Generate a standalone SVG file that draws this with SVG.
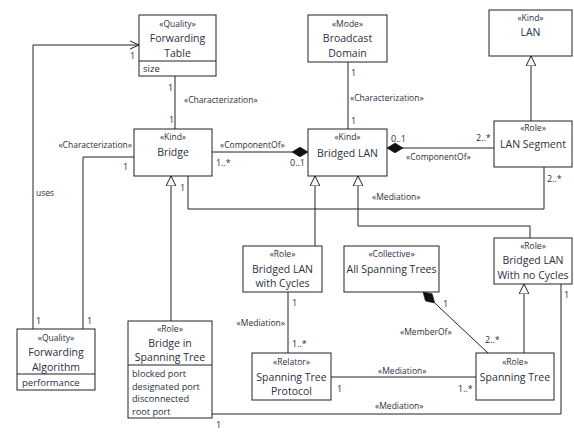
<svg xmlns="http://www.w3.org/2000/svg" width="574" height="432" viewBox="0 0 574 432">
<style>
.box{fill:#fff;stroke:#222;stroke-width:1}
.ln{fill:none;stroke:#222;stroke-width:1}
text{font-family:"Open Sans","Noto Sans","DejaVu Sans",sans-serif;fill:#2a2f3e}
.st{font-size:8.5px;text-anchor:middle}
.nm{font-size:10.5px;text-anchor:middle}
.at{font-size:9.5px}
.at2{font-size:9.2px}
.lb{font-size:8.5px}
.m{font-size:9px}
</style>
<defs>
<marker id="tri" viewBox="0 0 10 10" refX="10" refY="5" markerWidth="10" markerHeight="10" markerUnits="userSpaceOnUse" orient="auto">
<path d="M0,0 L10,5 L0,10 Z" fill="#fff" stroke="#222" stroke-width="1"/>
</marker>
<marker id="dia" viewBox="0 0 16 10" refX="16" refY="5" markerWidth="16" markerHeight="10" markerUnits="userSpaceOnUse" orient="auto">
<path d="M0,5 L8,0 L16,5 L8,10 Z" fill="#111" stroke="#111" stroke-width="0.5"/>
</marker>
<marker id="open" viewBox="0 0 10 10" refX="10" refY="5" markerWidth="10" markerHeight="10" markerUnits="userSpaceOnUse" orient="auto">
<path d="M1,1 L10,5 L1,9" fill="none" stroke="#222" stroke-width="1"/>
</marker>
</defs>

<g id="connectors">
<!-- uses -->
<path class="ln" d="M33,329 V45 H139" marker-end="url(#open)"/>
<text class="lb" x="36" y="196">uses</text>
<text class="m" x="130" y="59">1</text>
<text class="m" x="36" y="324">1</text>
<!-- FT-Bridge characterization -->
<path class="ln" d="M175,76 V129"/>
<text class="lb" x="184" y="103">«Characterization»</text>
<text class="m" x="168" y="91">1</text>
<text class="m" x="169" y="123">1</text>
<!-- Bridge-FA characterization -->
<path class="ln" d="M134,157 H83 V329"/>
<text class="lb" x="132" y="148" text-anchor="end">«Characterization»</text>
<text class="m" x="123" y="170">1</text>
<text class="m" x="87" y="324">1</text>
<!-- Bridge ComponentOf Bridged LAN -->
<path class="ln" d="M212,152 H308" marker-end="url(#dia)"/>
<text class="lb" x="220" y="148">«ComponentOf»</text>
<text class="m" x="216" y="166">1..*</text>
<text class="m" x="290" y="166">0..1</text>
<!-- LAN Segment ComponentOf Bridged LAN -->
<path class="ln" d="M494,148 H387" marker-end="url(#dia)"/>
<text class="lb" x="406" y="160">«ComponentOf»</text>
<text class="m" x="391" y="142">0..1</text>
<text class="m" x="476" y="141">2..*</text>
<!-- BD-BL characterization -->
<path class="ln" d="M348,62 V129"/>
<text class="lb" x="350" y="101">«Characterization»</text>
<text class="m" x="351" y="76">1</text>
<text class="m" x="351" y="124">1</text>
<!-- LAN Segment -> LAN -->
<path class="ln" d="M531,121 V56" marker-end="url(#tri)"/>
<!-- Mediation Bridge-LAN Segment -->
<path class="ln" d="M188,176 V209 H544 V167"/>
<text class="lb" x="372" y="200">«Mediation»</text>
<text class="m" x="180" y="191">1</text>
<text class="m" x="547" y="182">2..*</text>
<!-- BiST -> Bridge -->
<path class="ln" d="M171,321 V176" marker-end="url(#tri)"/>
<!-- BLwC -> Bridged LAN -->
<path class="ln" d="M315,246 V176" marker-end="url(#tri)"/>
<!-- BLnC -> Bridged LAN -->
<path class="ln" d="M530,238 V226 H358 V176" marker-end="url(#tri)"/>
<!-- Mediation BLwC - STP -->
<path class="ln" d="M288,292 V353"/>
<text class="lb" x="285" y="326" text-anchor="end">«Mediation»</text>
<text class="m" x="292" y="306">1</text>
<text class="m" x="292" y="347">1..*</text>
<!-- MemberOf -->
<path class="ln" d="M488,353 L423,292" marker-end="url(#dia)"/>
<text class="lb" x="400" y="335">«MemberOf»</text>
<text class="m" x="443" y="307">1</text>
<text class="m" x="485" y="343">2..*</text>
<!-- Mediation STP - ST -->
<path class="ln" d="M331,377 H476"/>
<text class="lb" x="378" y="374">«Mediation»</text>
<text class="m" x="337" y="392">1</text>
<text class="m" x="458" y="392">1..*</text>
<!-- ST -> BLnC -->
<path class="ln" d="M524,353 V284" marker-end="url(#tri)"/>
<!-- Mediation BiST - BLnC -->
<path class="ln" d="M212,414 H561 V284"/>
<text class="lb" x="375" y="409">«Mediation»</text>
<text class="m" x="216" y="428">1</text>
<text class="m" x="564" y="298">1</text>
</g>

<g id="forwarding-table">
<rect class="box" x="139" y="15" width="77" height="61"/>
<line class="ln" x1="139" y1="61" x2="216" y2="61"/>
<text class="st" x="177.5" y="27">«Quality»</text>
<text class="nm" x="177.5" y="42">Forwarding</text>
<text class="nm" x="177.5" y="57">Table</text>
<text class="at" x="143" y="72">size</text>
</g>

<g id="bridge">
<rect class="box" x="134" y="129" width="78" height="47"/>
<text class="st" x="173" y="140">«Kind»</text>
<text class="nm" x="173" y="156">Bridge</text>
</g>

<g id="broadcast-domain">
<rect class="box" x="308" y="15" width="79" height="47"/>
<text class="st" x="347.5" y="27">«Mode»</text>
<text class="nm" x="347.5" y="42">Broadcast</text>
<text class="nm" x="347.5" y="57">Domain</text>
</g>

<g id="lan">
<rect class="box" x="489" y="10" width="83" height="46"/>
<text class="st" x="530.5" y="21">«Kind»</text>
<text class="nm" x="530.5" y="36">LAN</text>
</g>

<g id="bridged-lan">
<rect class="box" x="308" y="129" width="79" height="47"/>
<text class="st" x="347.5" y="140">«Kind»</text>
<text class="nm" x="347.5" y="157">Bridged LAN</text>
</g>

<g id="lan-segment">
<rect class="box" x="494" y="121" width="78" height="46"/>
<text class="st" x="533" y="131">«Role»</text>
<text class="nm" x="533" y="148">LAN Segment</text>
</g>

<g id="forwarding-algorithm">
<rect class="box" x="17" y="329" width="78" height="61"/>
<line class="ln" x1="17" y1="374" x2="95" y2="374"/>
<text class="st" x="56" y="341">«Quality»</text>
<text class="nm" x="56" y="356">Forwarding</text>
<text class="nm" x="56" y="371">Algorithm</text>
<text class="at" x="22" y="386">performance</text>
</g>

<g id="bridge-in-spanning-tree">
<rect class="box" x="128" y="321" width="84" height="97"/>
<line class="ln" x1="128" y1="365" x2="212" y2="365"/>
<text class="st" x="170" y="332">«Role»</text>
<text class="nm" x="170" y="347">Bridge in</text>
<text class="nm" x="170" y="361">Spanning Tree</text>
<text class="at2" x="132" y="377">blocked port</text>
<text class="at2" x="132" y="389.6">designated port</text>
<text class="at2" x="132" y="402.2">disconnected</text>
<text class="at2" x="132" y="414.8">root port</text>
</g>

<g id="bridged-lan-with-cycles">
<rect class="box" x="243" y="246" width="79" height="46"/>
<text class="st" x="282.5" y="257">«Role»</text>
<text class="nm" x="282.5" y="273">Bridged LAN</text>
<text class="nm" x="282.5" y="287">with Cycles</text>
</g>

<g id="all-spanning-trees">
<rect class="box" x="344" y="246" width="95" height="46"/>
<text class="st" x="391.5" y="257">«Collective»</text>
<text class="nm" x="391.5" y="273">All Spanning Trees</text>
</g>

<g id="bridged-lan-no-cycles">
<rect class="box" x="494" y="238" width="78" height="46"/>
<text class="st" x="533" y="249">«Role»</text>
<text class="nm" x="533" y="264">Bridged LAN</text>
<text class="nm" x="533" y="279">With no Cycles</text>
</g>

<g id="spanning-tree-protocol">
<rect class="box" x="252" y="353" width="79" height="47"/>
<text class="st" x="291.5" y="365">«Relator»</text>
<text class="nm" x="291.5" y="381">Spanning Tree</text>
<text class="nm" x="291.5" y="395">Protocol</text>
</g>

<g id="spanning-tree">
<rect class="box" x="476" y="353" width="78" height="47"/>
<text class="st" x="515" y="365">«Role»</text>
<text class="nm" x="515" y="381">Spanning Tree</text>
</g>
</svg>
